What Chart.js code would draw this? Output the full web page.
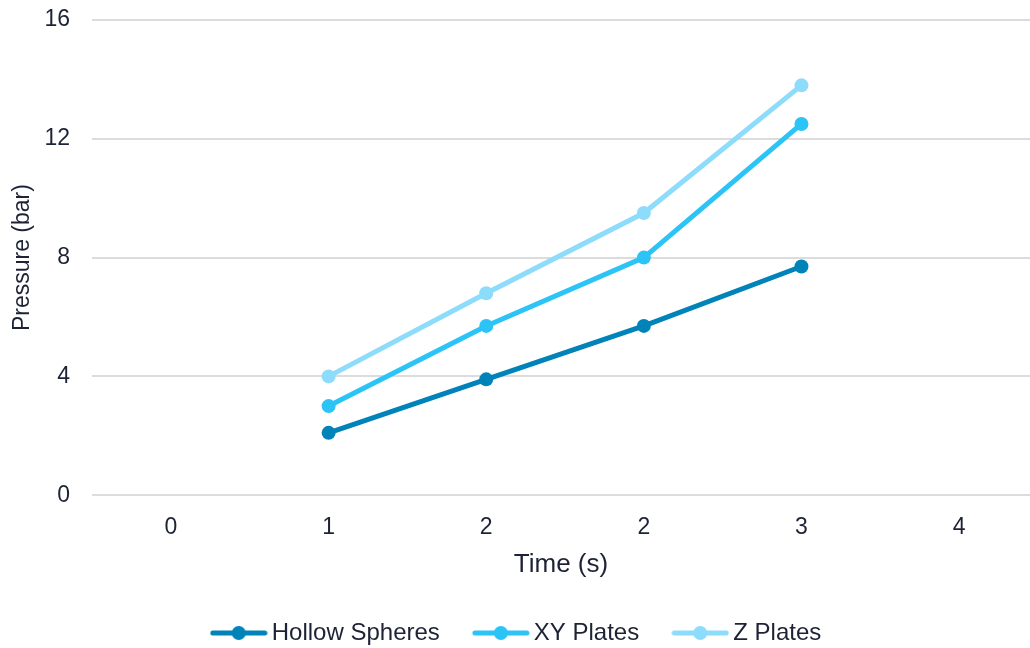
<!DOCTYPE html>
<html>
<head>
<meta charset="utf-8">
<script src="https://cdn.jsdelivr.net/npm/chart.js@4"></script>
<style>
  html, body { margin: 0; padding: 0; background: #fff; overflow: hidden; }
  #wrap { width: 1030px; height: 648px; }
  canvas { display: block; }
</style>
</head>
<body>
<div id="wrap"><canvas id="myChart"></canvas></div>
<script>
// x positions (time) of the measurements and of the axis ticks
var timeValues = [0.8, 1.6, 2.4, 3.2];
var tickValues = [0, 0.8, 1.6, 2.4, 3.2, 4];
var tickLabels = ["0", "1", "2", "2", "3", "4"];

var hollowSpheres = [2.1, 3.9, 5.7, 7.7];
var xyPlates = [3.0, 5.7, 8.0, 12.5];
var zPlates = [4.0, 6.8, 9.5, 13.8];

var textColor = "#1d2335";
var font = "'Liberation Sans', Arial, sans-serif";

function points(ys) {
  return ys.map(function (y, i) { return { x: timeValues[i], y: y }; });
}

// legend marker: line with a dot in the middle
function legendMarker(color) {
  var c = document.createElement("canvas");
  c.width = 58; c.height = 16;
  var g = c.getContext("2d");
  g.strokeStyle = color;
  g.lineWidth = 5;
  g.lineCap = "round";
  g.beginPath(); g.moveTo(3, 8); g.lineTo(55, 8); g.stroke();
  g.fillStyle = color;
  g.beginPath(); g.arc(29, 8, 7, 0, Math.PI * 2); g.fill();
  return c;
}

function series(label, data, color) {
  return {
    label: label,
    data: points(data),
    borderColor: color,
    backgroundColor: color,
    borderWidth: 5,
    pointRadius: 7,
    pointHoverRadius: 7,
    pointBorderWidth: 0,
    pointStyle: "circle",
    tension: 0
  };
}

var ctx = document.getElementById("myChart").getContext("2d");

new Chart(ctx, {
  type: "line",
  data: {
    datasets: [
      series("Hollow Spheres", hollowSpheres, "#0083b8"),
      series("XY Plates", xyPlates, "#2cc4f7"),
      series("Z Plates", zPlates, "#8ddcfb")
    ]
  },
  options: {
    responsive: true,
    maintainAspectRatio: false,
    animation: false,
    layout: { autoPadding: false, padding: { top: 20, right: 0, left: 9, bottom: -7 } },
    scales: {
      x: {
        type: "linear",
        min: -0.401,
        max: 4.36,
        afterBuildTicks: function (axis) {
          axis.ticks = tickValues.map(function (v) { return { value: v }; });
        },
        afterFit: function (axis) {
          axis.paddingLeft = 0;
          axis.paddingRight = 0;
        },
        grid: { display: false },
        border: { display: false },
        ticks: {
          color: textColor,
          font: { family: font, size: 23 },
          padding: 11,
          callback: function (value) {
            var i = tickValues.indexOf(value);
            return i >= 0 ? tickLabels[i] : "";
          }
        },
        title: {
          display: true,
          text: "Time (s)",
          color: textColor,
          font: { family: font, size: 26 },
          padding: { top: -4, bottom: 1 }
        }
      },
      y: {
        min: 0,
        max: 16,
        afterFit: function (axis) {
          axis.paddingTop = 0;
          axis.paddingBottom = 0;
          axis.width = 83;
        },
        ticks: {
          stepSize: 4,
          color: textColor,
          font: { family: font, size: 23 },
          padding: 22
        },
        grid: { color: "#dcdcdc", lineWidth: 2, drawTicks: false },
        border: { display: false },
        title: {
          display: true,
          text: "Pressure (bar)",
          color: textColor,
          font: { family: font, size: 23 },
          padding: { top: 0, bottom: 0 }
        }
      }
    },
    plugins: {
      tooltip: { enabled: false },
      legend: {
        position: "bottom",
        labels: {
          usePointStyle: true,
          pointStyleWidth: 42,
          color: textColor,
          font: { family: font, size: 24 },
          padding: 40,
          generateLabels: function (chart) {
            return chart.data.datasets.map(function (ds, i) {
              return {
                text: ds.label,
                fontColor: textColor,
                pointStyle: legendMarker(ds.borderColor),
                datasetIndex: i,
                hidden: false,
                lineWidth: 0
              };
            });
          }
        }
      }
    }
  }
});
</script>
</body>
</html>
